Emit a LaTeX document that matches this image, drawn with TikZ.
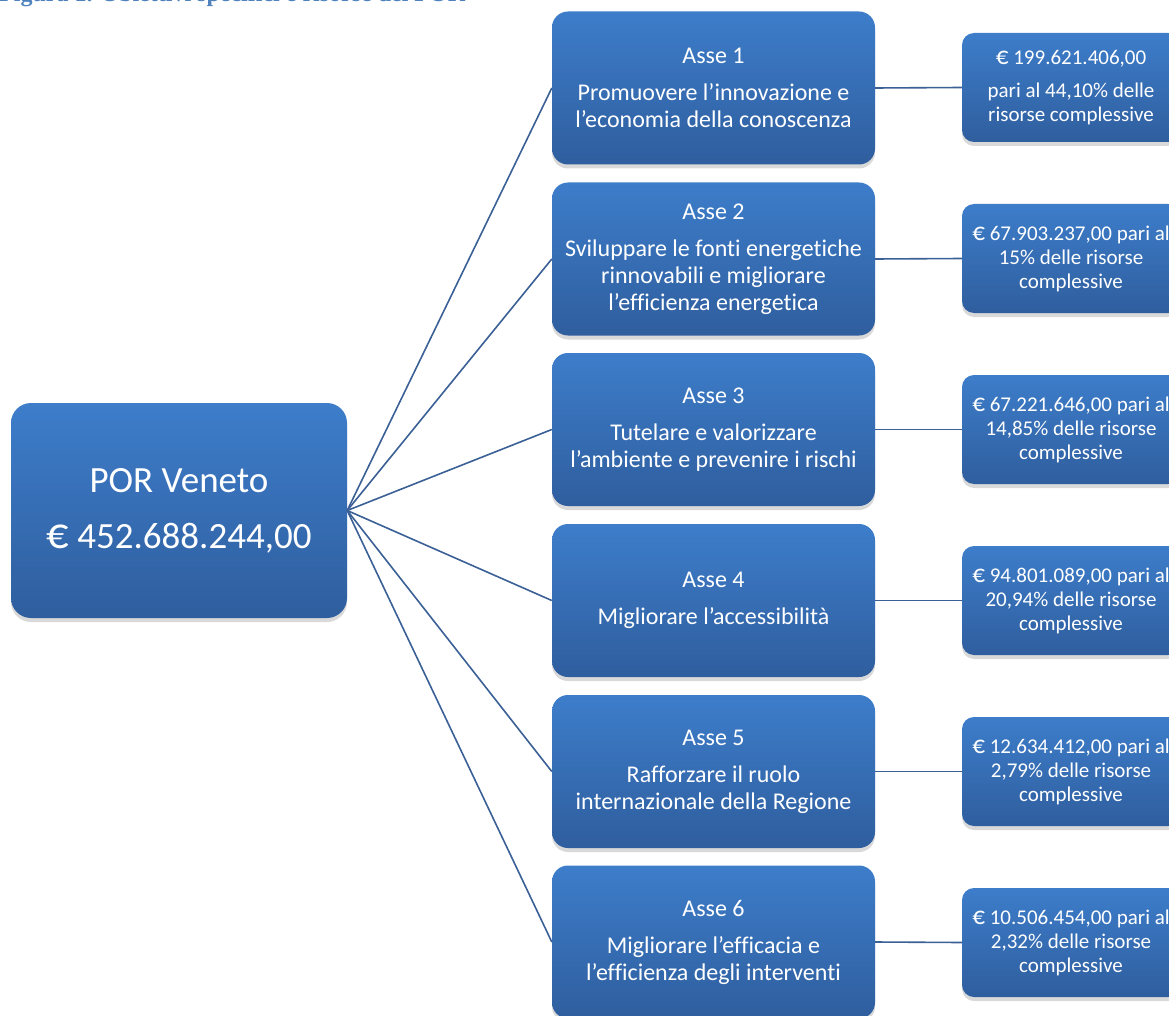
\documentclass[tikz,border=0pt]{standalone}
\usepackage{fontspec}
\setmainfont{Carlito}[Ligatures=NoCommon]
\newfontfamily\capfont{Liberation Serif}
\usetikzlibrary{shadows}
\newcommand\EURsym{\scalebox{1.2}{€}}
\definecolor{boxtop}{HTML}{3D7DCA}
\definecolor{boxbot}{HTML}{2F5E9E}
\definecolor{linkc}{HTML}{3B6096}
\definecolor{capc}{HTML}{4F81BD}
\begin{document}
\begin{tikzpicture}[x=1pt,y=-1pt,
  boxbase/.style={top color=boxtop, bottom color=boxbot, draw=none, text=white,
    align=center, inner sep=0pt,
    drop shadow={shadow xshift=0pt, shadow yshift=-4pt, opacity=0.3}},
  porbox/.style={boxbase, rounded corners=20pt, minimum width=336pt, minimum height=215pt,
    font=\fontsize{37}{56}\selectfont},
  assebox/.style={boxbase, rounded corners=16pt, minimum width=323pt, minimum height=153pt,
    font=\fontsize{24}{27}\selectfont},
  resbox/.style={boxbase, rounded corners=12pt, minimum width=218pt, minimum height=109pt,
    font=\fontsize{21}{24}\selectfont},
  link/.style={draw=linkc, line width=1.6pt}
]
\useasboundingbox (0,0) rectangle (1169,1016);
\clip (0,0) rectangle (1169,1016);

\node[anchor=base west, text=capc, inner sep=0pt,
  font=\capfont\bfseries\fontsize{24}{28}\selectfont] (cap) at (-1,2)
  {Figura 1. Obiettivi specifici e risorse del POR};

\node[porbox] (por) at (179,510.5) {POR Veneto\\\EURsym{} 452.688.244,00};

\node[assebox] (a1) at (713.5,88) {Asse 1\\[10pt]Promuovere l’innovazione e\\l’economia della conoscenza};
\node[assebox] (a2) at (713.5,259) {Asse 2\\[10pt]Sviluppare le fonti energetiche\\rinnovabili e migliorare\\l’efficienza energetica};
\node[assebox] (a3) at (713.5,429.5) {Asse 3\\[10pt]Tutelare e valorizzare\\l’ambiente e prevenire i rischi};
\node[assebox] (a4) at (713.5,600.5) {Asse 4\\[10pt]Migliorare l’accessibilità};
\node[assebox] (a5) at (713.5,771.5) {Asse 5\\[10pt]Rafforzare il ruolo\\internazionale della Regione};
\node[assebox] (a6) at (713.5,942) {Asse 6\\[10pt]Migliorare l’efficacia e\\l’efficienza degli interventi};

\node[resbox] (r1) at (1071,87.5) {\EURsym{} 199.621.406,00\\[9pt]pari al 44,10\% delle\\risorse complessive};
\node[resbox] (r2) at (1071,258.5) {\EURsym{} 67.903.237,00 pari al\\15\% delle risorse\\complessive};
\node[resbox] (r3) at (1071,429.5) {\EURsym{} 67.221.646,00 pari al\\14,85\% delle risorse\\complessive};
\node[resbox] (r4) at (1071,600.5) {\EURsym{} 94.801.089,00 pari al\\20,94\% delle risorse\\complessive};
\node[resbox] (r5) at (1071,771.5) {\EURsym{} 12.634.412,00 pari al\\2,79\% delle risorse\\complessive};
\node[resbox] (r6) at (1071,942.5) {\EURsym{} 10.506.454,00 pari al\\2,32\% delle risorse\\complessive};

\foreach \i in {1,...,6}{
  \draw[link] (por.east) -- (a\i.west);
  \draw[link] (a\i.east) -- (r\i.west);
}
\end{tikzpicture}
\end{document}
